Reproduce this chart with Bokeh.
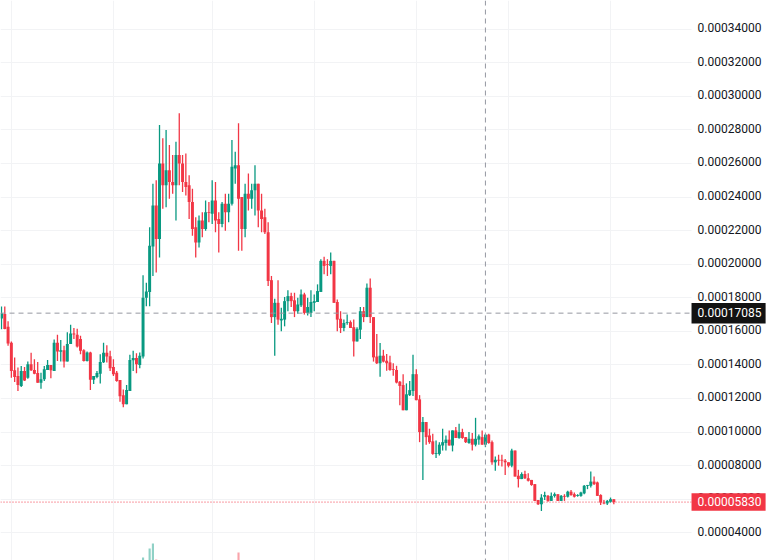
from bokeh.plotting import figure
from bokeh.embed import file_html
from bokeh.resources import INLINE
from bokeh.models import ColumnDataSource, FixedTicker, PrintfTickFormatter, Span, Label, Range1d, BoxAnnotation

# prices, in units of 0.00001
opens = [16.76,17.04,16.28,15.32,13.68,13.34,12.74,13.64,13.24,14.04,
13.7,13.52,12.94,13.14,13.7,14,13.64,15.32,14.78,14.88,
14.2,15.24,15.88,15.8,15.54,14.88,14.24,14.74,13.12,13.28,
13.48,14.16,14.72,14.52,13.88,13.54,13.1,12.2,11.66,12.44,
14.28,14.42,14,14.5,18,18.35,21.05,23.5,21.5,26,
24.7,25.6,24.9,24.7,26.5,26,24.9,24.7,23.7,22.2,
21.3,22.6,22.1,23.1,23,23.8,22.7,22.4,23.6,23.1,
23.6,25.7,25.9,24,22.1,24.2,23.9,24.4,24.8,23.2,
22.8,21.9,19.05,16.85,17.7,16.65,16.7,17.8,18.1,17.85,
17.2,17.55,18.2,17.1,17.1,17.7,17.75,18.35,20.2,20,
19.9,20.2,17.75,16.75,16.2,16.5,16.55,16.25,15.4,16.1,
17.2,16.85,18.6,16.85,14.5,14.1,14.55,14.25,14.15,13.75,
13.7,13,12.8,11.3,12.2,12.45,13.45,11.95,10,10.6,
9.8,9.45,8.7,8.7,9.2,9.35,9.55,9.2,10.1,9.65,
10,9.7,9.35,9.6,9.25,9.55,9.7,9.25,9.85,9.4,
8.2,8.35,8.35,8.3,8.2,8,8.9,7.4,7.2,7.5,
7.25,7.15,6.9,5.95,5.7,6.15,6.2,5.9,6.2,6.3,
5.9,6.2,6.15,6.45,6.3,6.2,6.2,6.35,6.8,6.8,
7.05,7,6.25,5.8,5.75,5.85,6]
highs = [17.48,17.48,16.6,15.4,14.44,13.84,13.94,13.88,14.2,14.72,
14.34,14.18,13.54,13.94,14.3,14,15.52,15.8,15.48,15.14,
15.94,16.4,16.2,16.16,15.74,14.94,14.8,14.78,13.34,13.64,
14.64,15.32,15.18,14.84,14.34,13.64,13.1,12.54,12.8,14.6,
14.84,14.7,14.74,19.35,18.9,22.2,24.8,25,28.3,27.5,
28,27.1,26.5,27.3,29,26.5,26.6,25.3,24.5,22.8,
22.9,23.1,23.8,23.7,25,24.9,23.1,23.7,24.2,24.2,
27.4,26.7,28.4,24,24.8,25.4,24.8,25.9,24.8,24.2,
23.3,22.5,19.3,17.95,19.05,17.4,18.05,18.45,18.3,18.3,
18,18.5,18.3,18,18.45,18.2,18.8,20.3,20.45,20.3,
20.7,20.2,17.9,17.2,16.7,17,16.65,16.7,16.25,17.45,
17.45,18.85,19.15,16.85,15.85,15.3,14.9,14.65,14.55,14.1,
13.95,13.05,13.45,12.9,13.05,14.6,13.75,12.2,10.9,10.6,
10.2,9.9,9.5,9.4,10.2,9.8,10.1,10.1,10.3,10.5,
10.2,9.7,10,9.95,10.85,9.85,10.1,9.85,9.9,9.5,
8.55,8.65,8.65,8.4,8.2,9,8.9,7.75,7.6,7.7,
7.55,7.15,6.9,5.95,6.3,6.45,6.25,6.4,6.4,6.3,
6.25,6.3,6.5,6.55,6.4,6.3,6.45,6.85,6.85,7.65,
7.35,7.05,6.3,5.95,5.95,6.1,6]
lows = [16.12,16.12,15.14,13.24,12.98,12.44,12.68,13.04,13.18,13.64,
13.44,12.94,12.58,13.04,13.7,13.2,13.64,14.24,14.2,13.84,
14.2,15.24,15.54,15.04,14.64,14.2,14.2,12.5,12.86,13.2,
12.9,14.12,14.14,13.64,13.34,13,11.8,11.48,11.66,12.44,
13.64,13.5,13.8,14.38,17.5,17.5,19.3,19.5,20.4,23.3,
23.4,23.9,24.2,22.6,24.7,24.3,24.1,22.7,21.7,20.4,
21,21.6,22,22.5,22.4,21.9,20.7,22.2,22,22.5,
23.5,24.8,20.8,20.8,21.6,23.2,23.3,22.9,22.2,21.9,
21.8,18.7,16.5,14.55,16.4,16,16.3,17.2,17.45,16.85,
17.05,17.45,17,16.95,16.85,17.2,17.75,18.35,19.4,19.3,
19.4,17.7,16,15.9,16,16.4,16.2,14.5,15.4,15.55,
16.55,16.85,16.5,14.2,14.05,13.3,14.15,13.65,13.65,13.35,
12.9,11.6,11.3,11.3,12.15,12.15,11.9,9.4,7.15,9.25,
9.3,8.65,8.45,8.6,8.9,8.9,9.2,8.85,9.65,9.6,
9.6,9.35,9.3,8.9,9.15,9.25,9.25,9.1,9.3,8.05,
7.7,8,7.95,7.45,7.9,7.9,7.35,6.7,7.2,7.2,
7.05,6.8,5.9,5.65,5.3,5.95,5.85,5.9,6.1,5.9,
5.9,5.9,6.1,6.2,6.1,6.15,6.15,6.3,6.6,6.7,
6.85,6.2,5.65,5.7,5.65,5.8,5.7]
closes = [17.08,16.14,15.28,13.64,13.28,12.8,13.64,13.08,14.04,13.68,
13.48,12.94,13.14,13.74,14,13.68,15.32,14.8,14.88,14.2,
15.24,15.88,15.82,15.1,14.84,14.24,14.74,13.12,13.34,13.52,
14.18,14.72,14.5,13.8,13.44,13.04,12.14,11.66,12.5,14.3,
14.42,14.04,14.54,18,18.38,21.1,23.5,21.5,26,24.7,
25.6,24.9,24.7,26.5,26,24.9,24.6,23.7,22.1,21.3,
22.6,22.1,23.1,23.05,23.8,22.6,22.4,23.6,23.1,23.6,
25.8,25.9,23.9,22.1,24.2,23.9,24.4,24.8,23.2,22.7,
21.9,19,16.85,17.7,16.7,16.75,17.8,18.1,17.8,17.2,
17.6,18.2,17.1,17.45,17.75,17.8,18.4,20.2,19.9,19.95,
20.2,17.7,16.7,16.2,16.5,16.55,16.2,15.4,16.15,17.2,
16.85,18.6,16.85,14.45,14.1,14.55,14.2,14.1,13.7,13.7,
12.95,12.75,11.3,12.25,12.5,13.45,11.9,10,10.6,9.7,
9.4,8.7,8.75,9.25,9.4,9.55,9.2,10.1,9.65,10,
9.65,9.4,9.6,9.25,9.6,9.75,9.25,9.85,9.35,8.2,
8.35,8.3,8.3,8.2,8,8.9,7.35,7.2,7.5,7.25,
7.1,6.85,5.9,5.7,6.1,6.25,5.9,6.2,6.3,5.9,
6.2,6.15,6.45,6.25,6.15,6.25,6.4,6.8,6.85,7.05,
6.9,6.2,5.8,5.75,5.9,6,5.83]

# volume bars poking up from the bottom edge
volume_bars = [43, 45, 46, 47, 72]
volumes = [3, 12, 17, 1, 8]

price_ticks = [4, 6, 8, 10, 12, 14, 16, 18, 20, 22, 24, 26, 28, 30, 32, 34]
grid_bars = [3, 34, 64, 95, 126, 154, 185]
cross_bar = 147
cross_price = 0.00017085
last_price = 0.00005830

GREEN = "#089981"
RED = "#F23645"
unit = 1e-5

bars = list(range(len(opens)))
colors = [GREEN if c >= o else RED for o, c in zip(opens, closes)]
source = ColumnDataSource(data=dict(
    x=bars,
    o=[v * unit for v in opens],
    h=[v * unit for v in highs],
    l=[v * unit for v in lows],
    c=[v * unit for v in closes],
    color=colors,
))

# the frame runs under the price scale too, the axis sits at scale_x with no space of its own
x_start, x_end = -0.3, 234.5
y_start, y_end = 2.35e-5, 35.71e-5
scale_x = 209.6
tag_right = 232.1
label_lift = 0.09e-5  # tick labels sit a touch above their grid lines

p = figure(width=773, height=560, output_backend="svg", toolbar_location=None,
           x_range=Range1d(x_start, x_end), y_range=Range1d(y_start, y_end),
           y_axis_location="right", min_border=0)
p.outline_line_color = None
p.background_fill_color = "white"
p.border_fill_color = "white"

p.xaxis.visible = False
p.xgrid.ticker = FixedTicker(ticks=grid_bars)
p.ygrid.ticker = FixedTicker(ticks=[t * unit for t in price_ticks])
p.xgrid.grid_line_color = "#F2F3F5"
p.ygrid.grid_line_color = "#F2F3F5"

p.extra_y_ranges = {"volume": Range1d(0, 560),
                    "labels": Range1d(y_start - label_lift, y_end - label_lift)}

ax = p.yaxis[0]
ax.y_range_name = "labels"
ax.fixed_location = scale_x
ax.ticker = FixedTicker(ticks=[t * unit for t in price_ticks])
ax.formatter = PrintfTickFormatter(format="%.8f")
ax.axis_line_color = None
ax.major_tick_line_color = None
ax.minor_tick_line_color = None
ax.major_tick_out = 0
ax.major_tick_in = 0
ax.major_label_standoff = 6
ax.major_label_text_font = "Roboto"
ax.major_label_text_font_size = "12px"
ax.major_label_text_color = "#131722"

# volume on its own scale, baseline sits at the bottom edge
vol_colors = [GREEN if closes[i] >= opens[i] else RED for i in volume_bars]
p.vbar(x=volume_bars, top=volumes, bottom=0, width=0.65, color=vol_colors, alpha=0.45,
       line_color=None, y_range_name="volume")

p.segment(x0=[x_start], y0=[last_price], x1=[scale_x], y1=[last_price], line_color=RED,
          line_dash="1 2", line_width=1)

p.segment("x", "l", "x", "h", color="color", line_width=1.3, source=source)
p.vbar(x="x", top="o", bottom="c", width=0.9, fill_color="color", line_color=None, source=source)

p.segment(x0=[x_start], y0=[cross_price], x1=[scale_x], y1=[cross_price], line_color="#9598A1",
          line_dash="5 4", line_width=1)
p.add_layout(Span(location=cross_bar, dimension="height", line_color="#9598A1",
                  line_dash="5 4", line_width=1))

# keep the horizontal grid lines out of the scale area
p.quad(left=[scale_x], right=[x_end], bottom=[y_start], top=[y_end], color="white", line_color=None)

# price tags on the scale, half heights in price units
for price, fill, half in [(cross_price, "#121212", 0.61), (last_price, RED, 0.52)]:
    p.add_layout(BoxAnnotation(left=scale_x, right=tag_right, bottom=price - half * unit,
                               top=price + half * unit, fill_color=fill, fill_alpha=1,
                               line_color=None))
    p.add_layout(Label(x=scale_x, y=price, x_offset=6, y_offset=1, text="%.8f" % price,
                       text_color="white", text_font="Roboto", text_font_size="12px",
                       text_baseline="middle", text_align="left"))

open("out.html", "w").write(file_html(p, INLINE))
